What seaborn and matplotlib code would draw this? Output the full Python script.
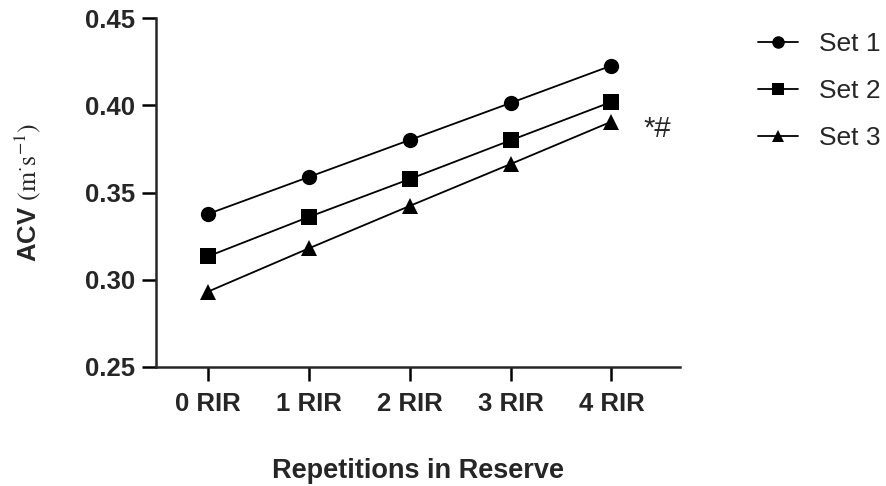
import matplotlib
matplotlib.use("Agg")
import matplotlib.pyplot as plt
import seaborn as sns
import pandas as pd

# values
rir = ["0 RIR", "1 RIR", "2 RIR", "3 RIR", "4 RIR"]
set1 = [0.3377, 0.3589, 0.3801, 0.4013, 0.4227]
set2 = [0.3134, 0.3360, 0.3577, 0.3799, 0.4019]
set3 = [0.2932, 0.3180, 0.3423, 0.3663, 0.3906]
sets = ["Set 1", "Set 2", "Set 3"]

rows = []
for name, vals in zip(sets, [set1, set2, set3]):
    for i, v in enumerate(vals):
        rows.append({"pos": i, "ACV": v, "Set": name})
df = pd.DataFrame(rows)

sns.set_style("ticks")
plt.rcParams["font.family"] = ["Liberation Sans", "DejaVu Sans"]
plt.rcParams["mathtext.fontset"] = "stix"

fig = plt.figure(figsize=(8.86, 4.86), dpi=100)
ax = fig.add_axes([156 / 886, 1 - 367 / 486, 524 / 886, 349 / 486])

sns.lineplot(data=df, x="pos", y="ACV", style="Set", markers={"Set 1": "o", "Set 2": "s", "Set 3": "^"},
             dashes=False, color="black", linewidth=1.3, markersize=11, markeredgewidth=0, ax=ax)

ax.set_xlim(-0.516, 4.68)
ax.set_ylim(0.25, 0.45)
ax.set_xticks(range(len(rir)))
ax.set_xticklabels(rir)
ax.set_yticks([0.25, 0.30, 0.35, 0.40, 0.45])
ax.set_yticklabels(["0.25", "0.30", "0.35", "0.40", "0.45"])
for lab in ax.get_xticklabels() + ax.get_yticklabels():
    lab.set_fontweight("bold")
    lab.set_fontsize(18.5)
ax.tick_params(axis="both", length=10, width=1.8, color="black")
ax.tick_params(axis="y", pad=5)
ax.tick_params(axis="x", pad=8)
for s in ["top", "right"]:
    ax.spines[s].set_visible(False)
for s in ["left", "bottom"]:
    ax.spines[s].set_linewidth(1.8)

ax.set_xlabel("Repetitions in Reserve", fontsize=19.5, fontweight="bold", labelpad=30)
ax.set_ylabel(r"ACV $\mathrm{(m^{\cdot}s^{-1})}$", fontsize=18.5, fontweight="bold", labelpad=30)

ax.text(4.32, set3[4] - 0.004, "*#", fontsize=21, va="center", ha="left")

handles, labels = ax.get_legend_handles_labels()
for h in handles:
    h.set_markersize(9)
ax.legend(handles, labels, loc="upper left", bbox_to_anchor=(758 / 886, 1 - 32 / 486),
          bbox_transform=fig.transFigure, frameon=False, fontsize=19,
          handlelength=1.5, handletextpad=0.8, labelspacing=0.87, borderpad=0, borderaxespad=0)

fig.savefig("out.png", dpi=100)
